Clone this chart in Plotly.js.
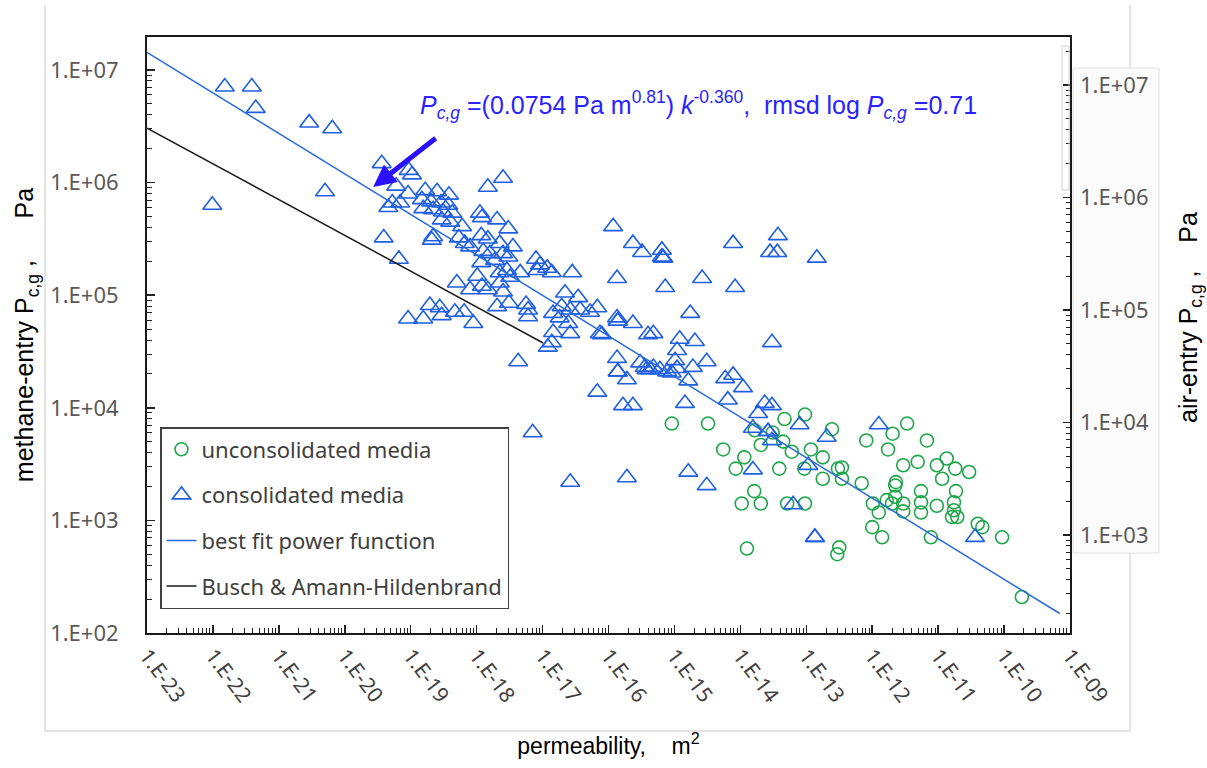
<!DOCTYPE html>
<html><head><meta charset="utf-8">
<script src="https://cdn.plot.ly/plotly-3.0.1.min.js"></script>
<style>html,body{margin:0;padding:0;background:#fff;}#chart{width:1207px;height:768px;}</style>
</head><body><div id="chart"></div>
<script>
// ---- tick labels ----
const xTickExp = [-23,-22,-21,-20,-19,-18,-17,-16,-15,-14,-13,-12,-11,-10,-9];
const xTickLabels = ['1.E-23','1.E-22','1.E-21','1.E-20','1.E-19','1.E-18','1.E-17','1.E-16','1.E-15','1.E-14','1.E-13','1.E-12','1.E-11','1.E-10','1.E-09'];
const yTickExp = [2,3,4,5,6,7];
const yTickLabels = ['1.E+02','1.E+03','1.E+04','1.E+05','1.E+06','1.E+07'];
const y2TickExp = [3,4,5,6,7];
const y2TickLabels = ['1.E+03','1.E+04','1.E+05','1.E+06','1.E+07'];

// ---- consolidated media (log10 permeability m^2, log10 entry pressure Pa) ----
const consolidatedLogK = [
-21.82,-21.41,-21.35,-20.54,-20.19,-22.01,-20.30,-19.44,-19.41,-19.18,-19.28,-19.22,-19.34,
-19.03,-18.98,-19.04,-19.16,-18.78,-18.60,-18.42,-17.83,-17.60,-18.83,-18.69,-18.54,-18.43,-18.81,-18.66,-18.51,-18.37,-18.53,
-18.40,-18.22,-17.95,-17.92,-17.69,-17.52,-18.68,-18.66,-18.27,-18.18,-17.93,-17.83,-17.65,-17.45,-18.10,-17.90,-17.80,-17.60,
-17.52,-17.93,-17.72,-17.10,-17.04,-16.93,-16.86,-17.08,-17.54,-17.34,-17.65,-17.49,-17.99,-18.30,-18.10,-17.92,-17.83,-17.65,
-17.60,-16.55,-18.71,-18.56,-18.33,-18.19,-17.69,-17.51,-17.25,-17.22,-19.04,-18.81,-18.53,-18.05,-17.22,-16.84,-16.84,-16.66,
-16.46,-16.71,-16.58,-16.43,-16.28,-16.17,-16.74,-16.61,-16.58,-16.13,-16.86,-16.92,-17.37,-17.15,-16.58,
-15.93,-15.63,-15.49,-15.19,-15.19,-15.17,-15.17,-15.87,-15.14,-14.11,-13.43,-13.55,-13.44,-12.84,-14.58,-14.08,-14.76,-15.87,
-15.86,-15.86,-15.63,-15.40,-15.32,-14.92,-14.69,-16.10,-13.52,-15.87,-15.86,-15.86,-15.72,-15.52,-15.45,-15.42,-15.37,-15.32,
-15.22,-15.11,-15.04,-14.96,-14.99,-14.96,-14.79,-14.72,-14.51,-14.23,-14.11,-13.96,-14.19,-14.84,-15.78,-15.63,-16.17,-13.63,
-13.52,-13.73,-13.81,-13.58,-13.58,-13.52,-13.10,-12.69,-11.90,-12.97,-13.81,-14.79,-15.72,-14.51,-13.20,-12.87,-12.87,-10.44
];
const consolidatedLogP = [
6.85,6.85,6.66,6.53,6.48,5.80,5.92,6.17,5.51,5.32,5.82,5.97,5.78,
6.11,6.07,5.90,5.82,5.93,5.92,5.89,5.96,6.04,5.85,5.83,5.82,5.80,5.77,5.76,5.74,5.73,5.67,
5.65,5.61,5.73,5.69,5.67,5.59,5.49,5.52,5.51,5.46,5.53,5.50,5.46,5.43,5.43,5.39,5.37,5.37,
5.34,5.29,5.31,5.32,5.27,5.24,5.20,5.22,5.22,5.20,5.20,5.16,5.17,5.11,5.05,5.08,5.05,5.11,
5.03,5.20,4.91,4.89,4.85,4.85,4.90,4.93,4.92,4.87,4.79,4.79,4.82,4.75,4.81,4.84,4.67,5.02,
4.98,4.90,4.87,4.87,4.85,4.89,4.80,4.75,4.66,4.66,4.58,4.54,4.41,3.78,3.34,
5.61,5.46,5.38,5.40,5.34,5.33,5.33,5.15,5.07,5.46,5.53,5.38,5.38,5.33,5.15,5.07,4.84,4.80,
4.77,4.77,4.75,4.65,4.66,4.61,4.59,4.65,4.58,4.44,4.32,4.32,4.25,4.40,4.36,4.34,4.34,4.36,
4.34,4.32,4.31,4.35,4.42,4.51,4.24,4.36,4.41,4.26,4.29,4.18,4.07,4.04,4.02,4.02,4.14,4.04,
4.02,3.95,3.82,3.79,3.79,3.71,3.85,3.74,3.85,3.49,3.45,3.43,3.38,3.31,3.14,2.85,2.85,2.85
];

// ---- unconsolidated media ----
const unconsolidatedLogK = [
-15.04,-14.49,-13.33,-13.02,-12.61,-11.47,-11.69,-12.09,-11.17,-11.76,-13.78,-13.51,-13.35,-13.22,-14.26,-13.94,-14.07,
-13.69,-12.93,-12.75,-13.41,-13.03,-12.46,-12.52,-12.75,-12.46,-12.16,-11.53,-11.31,-11.02,-10.87,-10.74,-10.53,-10.94,
-11.64,-11.65,-11.26,-10.73,-11.65,-11.78,-11.70,-11.53,-11.99,-11.90,-11.53,-11.26,-11.26,-11.02,-10.76,-10.76,-10.79,
-10.71,-13.79,-13.98,-13.69,-13.29,-13.02,-12.00,-11.85,-11.11,-10.40,-10.33,-10.03,-13.90,-12.50,-12.53,-9.73
];
const unconsolidatedLogP = [
3.86,3.86,3.90,3.94,3.81,3.86,3.77,3.71,3.71,3.63,3.80,3.78,3.70,3.61,3.63,3.56,3.46,
3.67,3.63,3.56,3.46,3.46,3.47,3.46,3.37,3.37,3.33,3.49,3.52,3.49,3.55,3.46,3.43,3.37,
3.34,3.31,3.26,3.26,3.21,3.18,3.15,3.15,3.15,3.07,3.08,3.16,3.07,3.13,3.16,3.09,3.03,
3.03,3.26,3.15,3.15,3.15,3.15,2.94,2.85,2.85,2.97,2.94,2.85,2.75,2.76,2.70,2.32
];

// ---- best fit power function  P = a k^b ----
const fitCoefficient = 0.0754;
const fitExponent = -0.360;
const fitK = [1e-23, 7e-10];
// ---- Busch & Amann-Hildenbrand line ----
const buschK = [1e-23, 1.02e-17];
const buschP = [3.05e6, 3.76e4];

const pow10 = v => Math.pow(10, v);
const fitP = fitK.map(k => fitCoefficient * Math.pow(k, fitExponent));

const blue = '#1f5fe0', green = '#1fa64a';
const traces = [
  {x: unconsolidatedLogK.map(pow10), y: unconsolidatedLogP.map(pow10), type:'scatter', mode:'markers',
   name:'unconsolidated media', legendgroup:'a', legendrank:1,
   marker:{symbol:'circle-open', size:13, color:green, line:{width:1.6, color:green}}},
  {x: consolidatedLogK.map(pow10), y: consolidatedLogP.map(pow10), type:'scatter', mode:'markers',
   name:'consolidated media', legendgroup:'b', legendrank:2,
   marker:{symbol:'triangle-up-open', size:16.5, color:blue, line:{width:1.6, color:blue}}},
  {x: fitK, y: fitP, type:'scatter', mode:'lines', name:'best fit power function', legendgroup:'c', legendrank:3,
   line:{color:'#2a6ad8', width:1.5}},
  {x: buschK, y: buschP, type:'scatter', mode:'lines', name:'Busch & Amann-Hildenbrand', legendgroup:'d', legendrank:4,
   line:{color:'#1a1a1a', width:1.5}},
  {x: [], y: [], yaxis:'y2', type:'scatter', mode:'markers', showlegend:false}
];

const nb = '\u00a0';
const sp = n => nb.repeat(n);
const px2x = p => (p - 147) / 923;
const px2y = p => (633 - p) / 596;
const grey = '#c8c8c8';

const layout = {
  width:1207, height:768,
  margin:{l:147, r:137, t:37, b:135, autoexpand:false},
  paper_bgcolor:'#fff', plot_bgcolor:'#fff',
  showlegend:true,
  xaxis:{type:'log', range:[-23,-9], tickmode:'array', tickvals:xTickExp.map(pow10), ticktext:xTickLabels,
    tickangle:53, ticks:'inside', ticklen:8, tickwidth:1.5, tickcolor:'#222',
    minor:{ticks:'inside', ticklen:5, tickwidth:1, tickcolor:'#222', dtick:'D1', showgrid:false},
    showgrid:false, zeroline:false, showline:true, mirror:true, linewidth:2, linecolor:'#1a1a1a',
    tickfont:{family:'Noto Sans', size:21, color:'#404040'},
    title:{text:'permeability,'+sp(3)+' m<sup>2</sup>'+sp(3), font:{family:'Liberation Sans', size:23, color:'#000'}, standoff:31}},
  yaxis:{type:'log', range:[2,7.293], tickmode:'array', tickvals:yTickExp.map(pow10), ticktext:yTickLabels,
    ticks:'inside', ticklen:8, tickwidth:1.5, tickcolor:'#222',
    minor:{ticks:'inside', ticklen:5, tickwidth:1, tickcolor:'#222', dtick:'D1', showgrid:false},
    showgrid:false, zeroline:false, showline:true, mirror:true, linewidth:2, linecolor:'#1a1a1a',
    tickfont:{family:'Noto Sans', size:22, color:'#595959'}, ticklabelstandoff:22,
    title:{text:'methane-entry P<sub>c,g</sub>'+nb+','+sp(6)+'Pa', font:{family:'Liberation Sans', size:25, color:'#000'}, standoff:9}},
  yaxis2:{type:'log', overlaying:'y', side:'right', range:[2.129,7.427], tickmode:'array',
    tickvals:y2TickExp.map(pow10), ticktext:y2TickLabels,
    ticks:'inside', ticklen:7, tickwidth:1.5, tickcolor:'#222',
    minor:{ticks:'inside', ticklen:4, tickwidth:1, tickcolor:'#222', dtick:'D1', showgrid:false},
    showgrid:false, zeroline:false, showline:false,
    tickfont:{family:'Noto Sans', size:22, color:'#595959'}, ticklabelstandoff:9},
  legend:{x:px2x(160), y:px2y(427), xanchor:'left', yanchor:'top', bgcolor:'#fff', bordercolor:'#404040', borderwidth:1.5,
    font:{family:'Noto Sans', size:22, color:'#404040'}, traceorder:'grouped', tracegroupgap:14},
  shapes:[
    {type:'line', xref:'paper', yref:'paper', x0:px2x(45), x1:px2x(45), y0:px2y(5), y1:px2y(731), line:{color:grey, width:1}},
    {type:'line', xref:'paper', yref:'paper', x0:px2x(45), x1:px2x(1130), y0:px2y(731), y1:px2y(731), line:{color:grey, width:1}},
    {type:'line', xref:'paper', yref:'paper', x0:px2x(1130), x1:px2x(1130), y0:px2y(731), y1:px2y(553), line:{color:grey, width:1}},
    {type:'line', xref:'paper', yref:'paper', x0:px2x(1130), x1:px2x(1130), y0:px2y(68), y1:px2y(5), line:{color:grey, width:1}},
    {type:'rect', xref:'paper', yref:'paper', x0:px2x(1073), x1:px2x(1159), y0:px2y(553), y1:px2y(68), layer:'below',
     fillcolor:'#fbfbfb', line:{color:'#e2e2e2', width:1}},
    {type:'rect', xref:'paper', yref:'paper', x0:px2x(1062), x1:px2x(1069), y0:px2y(190), y1:px2y(46),
     line:{color:'#cfcfcf', width:1}}
  ],
  annotations:[
    {xref:'paper', yref:'paper', x:px2x(418), y:px2y(105), xanchor:'left', yanchor:'middle', showarrow:false,
     text:'<i>P</i><sub><i>c,g</i></sub> =(0.0754 Pa m<sup>0.81</sup>) <i>k</i><sup>-0.360</sup>,'+sp(2)+'rmsd log <i>P</i><sub><i>c,g</i></sub> =0.71',
     font:{family:'Liberation Sans', size:25, color:'#2a22ff'}},
    {x:-19.57, y:5.96, xref:'x', yref:'y', text:'', showarrow:true, arrowhead:2, arrowsize:0.9, arrowwidth:5,
     arrowcolor:'#2a10ff', ax:64, ay:-50},
    {xref:'paper', yref:'paper', x:px2x(1190), y:px2y(318), xanchor:'center', yanchor:'middle', showarrow:false, textangle:-90,
     text:'air-entry P<sub>c,g</sub>'+nb+','+sp(4)+'Pa', font:{family:'Liberation Sans', size:25, color:'#000'}}
  ]
};

Plotly.newPlot('chart', traces, layout, {displayModeBar:false, staticPlot:true});
</script></body></html>
